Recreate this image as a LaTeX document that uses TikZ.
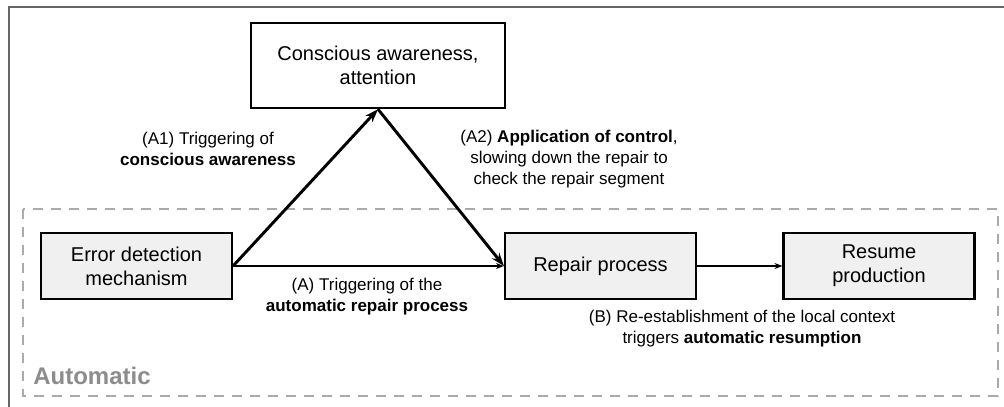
\documentclass[tikz,border=0pt]{standalone}
\usepackage{fontspec}
\setmainfont{Liberation Sans}
\usetikzlibrary{arrows.meta}
\definecolor{boxfill}{HTML}{F0F0F0}
\definecolor{dashgray}{HTML}{AAAAAA}
\definecolor{autogray}{HTML}{8C8C8C}
\definecolor{framegray}{HTML}{666666}
\begin{document}
\begin{tikzpicture}[x=0.75pt,y=-0.75pt,
  procbox/.style={draw=black, line width=1.8pt, fill=boxfill, minimum width=143pt, minimum height=49.5pt, align=center, font=\fontsize{15}{18}\selectfont, inner sep=0pt},
  topbox/.style={procbox, fill=white, minimum width=190.5pt, minimum height=63.75pt},
  lbl/.style={align=center, font=\fontsize{12.75}{15.75}\selectfont, inner sep=0pt},
  thickarrow/.style={line width=2.2pt, -{Stealth[length=10pt,width=7pt]}},
  thinarrow/.style={line width=1pt, -{Stealth[length=6pt,width=4.5pt]}},
]
\useasboundingbox (0,0) rectangle (1004,407);
\draw[framegray, line width=1.2pt] (9,407) -- (9,7) -- (1004,7);
\draw[dashgray, line width=2pt, dash pattern=on 7.5pt off 6pt] (23,209) rectangle (998,396);
\node[anchor=base west, text=autogray, font=\fontsize{18}{20}\selectfont\bfseries, inner sep=0pt] (auto) at (33,384) {Automatic};
\node[topbox] (cons) at (378,65.5) {Conscious awareness,\\attention};
\node[procbox] (err) at (136.5,266) {Error detection\\mechanism};
\node[procbox] (rep) at (600.5,266) {Repair process};
\node[procbox] (res) at (879,266) {Resume\\production};
\draw[thickarrow] (err.east) -- (cons.south);
\draw[thickarrow] (cons.south) -- (rep.west);
\draw[thinarrow] (err.east) -- (rep.west);
\draw[thinarrow] (rep.east) -- (res.west);
\node[lbl] (la1) at (208,148.5) {(A1) Triggering of\\\textbf{conscious awareness}};
\node[lbl] (la2) at (569,159) {(A2) \textbf{Application of control},\\slowing down the repair to\\check the repair segment};
\node[lbl] (la) at (367,297) {(A) Triggering of the\\\textbf{automatic repair process}};
\node[lbl] (lb) at (742,329) {(B) Re-establishment of the local context\\triggers \textbf{automatic resumption}};
\end{tikzpicture}
\end{document}
